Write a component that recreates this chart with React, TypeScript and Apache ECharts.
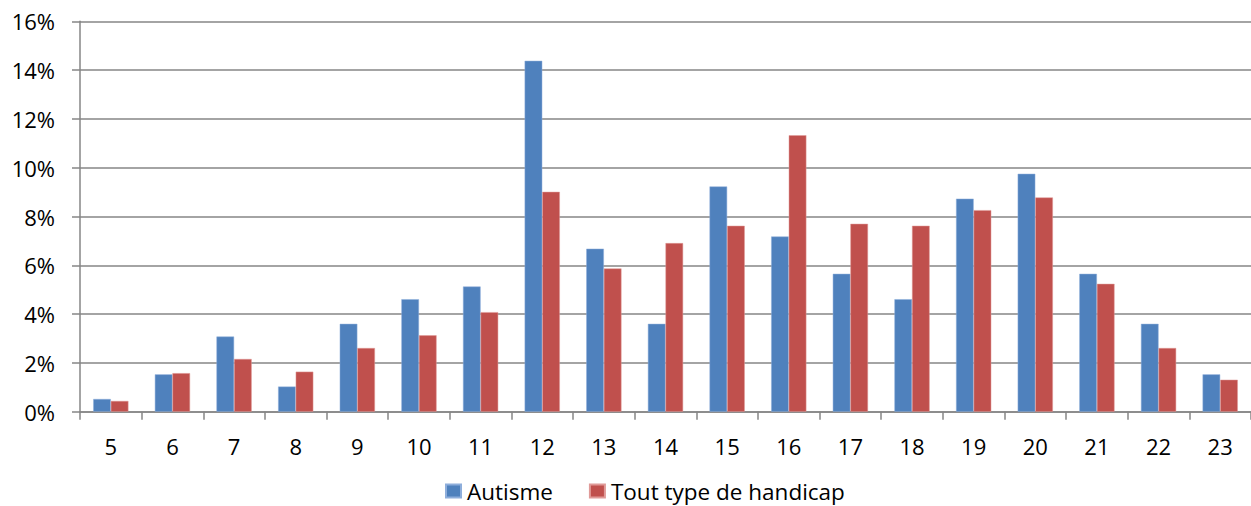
import React, { useEffect, useRef } from "react";
import * as echarts from "echarts";

const categories = ["5", "6", "7", "8", "9", "10", "11", "12", "13", "14", "15", "16", "17", "18", "19", "20", "21", "22", "23"];
const autisme = [0.52, 1.53, 3.08, 1.03, 3.6, 4.61, 5.13, 14.38, 6.68, 3.6, 9.23, 7.18, 5.65, 4.61, 8.73, 9.75, 5.65, 3.6, 1.53];
const toutType = [0.44, 1.58, 2.16, 1.64, 2.61, 3.13, 4.08, 9.01, 5.87, 6.91, 7.62, 11.33, 7.7, 7.62, 8.26, 8.78, 5.24, 2.61, 1.31];
const yTicks = { min: 0, max: 16, interval: 2 };

const FONT = "Open Sans";

export default function App() {
  const ref = useRef<HTMLDivElement>(null);
  useEffect(() => {
    if (!ref.current) return;
    const chart = echarts.init(ref.current, null, { renderer: "svg" });
    chart.setOption({
      animation: false,
      grid: { left: 80, right: -9, top: 21.3, bottom: 94.3, containLabel: false },
      legend: {
        top: 479,
        left: 445,
        itemWidth: 15,
        itemHeight: 13,
        itemGap: 36,
        icon: "rect",
        padding: 0,
        textStyle: { fontFamily: FONT, fontSize: 22.5, color: "#000", lineHeight: 24, padding: [0, 0, 0, 1] },
        data: ["Autisme", "Tout type de handicap"],
      },
      xAxis: {
        type: "category",
        data: categories,
        boundaryGap: true,
        axisLine: { lineStyle: { color: "#868686", width: 1.5 } },
        axisTick: { show: true, length: 8, lineStyle: { color: "#868686", width: 1.5 } },
        axisLabel: { fontFamily: FONT, fontSize: 22, color: "#000", margin: 23 },
      },
      yAxis: {
        type: "value",
        min: yTicks.min,
        max: yTicks.max,
        interval: yTicks.interval,
        axisLine: { show: true, lineStyle: { color: "#868686", width: 1.5 } },
        axisTick: { show: true, length: 8, lineStyle: { color: "#868686", width: 1.5 } },
        splitLine: { show: true, lineStyle: { color: "#868686", width: 1.5 } },
        axisLabel: {
          fontFamily: FONT,
          fontSize: 22,
          color: "#000",
          margin: 25,
          formatter: (v: number) => `${v}%`,
        },
      },
      series: [
        {
          name: "Autisme",
          type: "bar",
          data: autisme,
          barWidth: 17.6,
          barGap: "0%",
          itemStyle: { color: "#4F81BD", borderColor: "#8eaedb", borderWidth: 0.5 },
        },
        {
          name: "Tout type de handicap",
          type: "bar",
          data: toutType,
          barWidth: 17.6,
          barGap: "0%",
          itemStyle: { color: "#C0504D", borderColor: "#e09a98", borderWidth: 0.5 },
        },
      ],
    });
    return () => chart.dispose();
  }, []);
  return (
    <div
      ref={ref}
      style={{ position: "fixed", left: 0, top: 0, width: 1251, height: 506, background: "#fff" }}
    />
  );
}
